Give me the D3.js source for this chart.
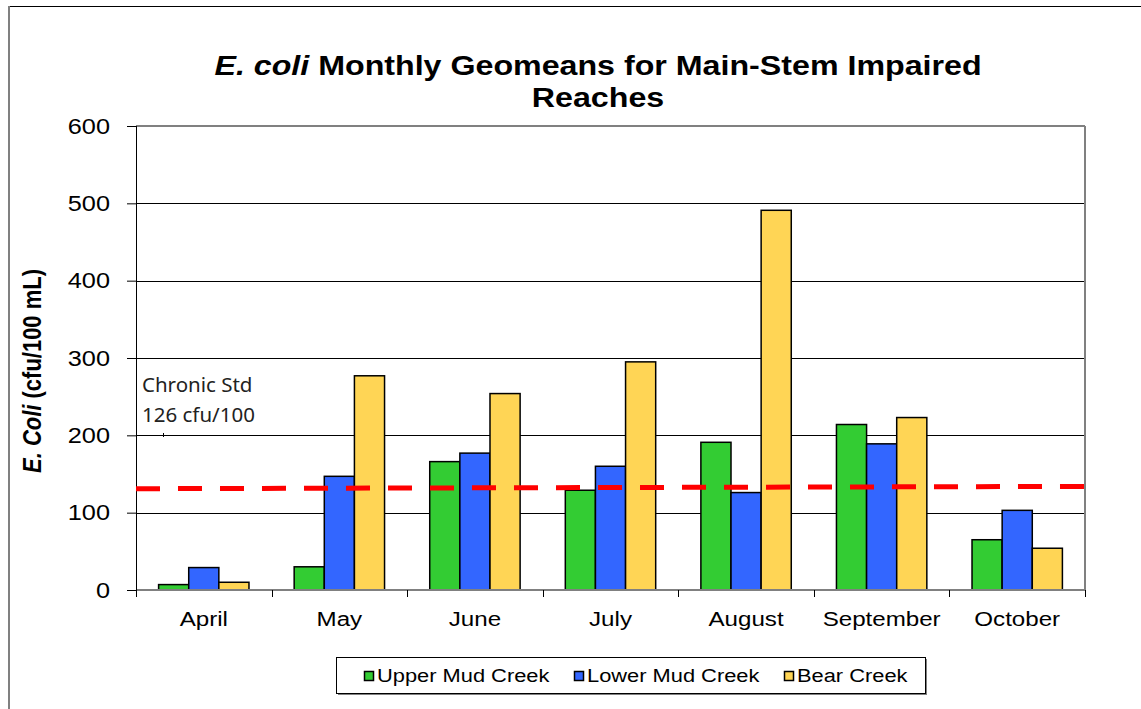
<!DOCTYPE html>
<html>
<head>
<meta charset="utf-8">
<script src="https://cdn.jsdelivr.net/npm/d3@7"></script>
<style>
  body { margin: 0; background: #fff; }
  svg { display: block; font-family: "Liberation Sans", Arial, sans-serif; }
</style>
</head>
<body>
<div id="chart"></div>
<script>
// data
var months = ["April", "May", "June", "July", "August", "September", "October"];
var seriesNames = ["Upper Mud Creek", "Lower Mud Creek", "Bear Creek"];
var upperMud = [7, 30, 166, 129, 191, 214, 65];
var lowerMud = [29, 147, 177, 160, 126, 189, 103];
var bearCreek = [10, 277, 254, 295, 491, 223, 54];
var stdLine = [131, 134];   // chronic standard line, left end / right end
var yTicks = [0, 100, 200, 300, 400, 500, 600];
var colors = ["#33cc33", "#3366ff", "#ffd555"];

var W = 1141, H = 709;
var margin = { top: 126, right: 56, bottom: 119, left: 136 };
var width = W - margin.left - margin.right,
    height = H - margin.top - margin.bottom;
var sx = 1.15; // text in the picture is drawn a bit wide

var svg = d3.select("#chart").append("svg")
    .attr("width", W)
    .attr("height", H);

// outer chart border
svg.append("line").attr("x1", 9).attr("x2", W).attr("y1", 6.5).attr("y2", 6.5)
    .attr("stroke", "#000").attr("stroke-width", 1);
svg.append("line").attr("x1", 9).attr("x2", 9).attr("y1", 6).attr("y2", H)
    .attr("stroke", "#808080").attr("stroke-width", 2);

var x0 = d3.scaleBand().domain(months).range([0, width]).paddingInner(0).paddingOuter(0);
var x1 = d3.scaleBand().domain(seriesNames).range([0, x0.bandwidth()]).paddingInner(0).paddingOuter(0.75);
var y = d3.scaleLinear().domain([0, 600]).range([height, 0]);

var chart = svg.append("g")
    .attr("transform", "translate(" + margin.left + "," + margin.top + ")");

// gridlines
chart.append("g").selectAll("line")
    .data(yTicks.filter(function (d) { return d > 0 && d < 600; }))
    .enter().append("line")
    .attr("x1", 0).attr("x2", width)
    .attr("y1", function (d) { return Math.round(y(d)) + 0.5; })
    .attr("y2", function (d) { return Math.round(y(d)) + 0.5; })
    .attr("stroke", "#000").attr("stroke-width", 1);

// plot area top / right border
chart.append("line").attr("x1", 0).attr("x2", width).attr("y1", y(600)).attr("y2", y(600))
    .attr("stroke", "#808080").attr("stroke-width", 2);
chart.append("line").attr("x1", width).attr("x2", width).attr("y1", y(600)).attr("y2", height)
    .attr("stroke", "#808080").attr("stroke-width", 2);

// bars
var data = months.map(function (m, i) {
    return { month: m, values: [upperMud[i], lowerMud[i], bearCreek[i]] };
});
var groups = chart.selectAll(".grp")
    .data(data)
    .enter().append("g")
    .attr("class", "grp")
    .attr("transform", function (d) { return "translate(" + x0(d.month) + ",0)"; });
groups.selectAll("rect")
    .data(function (d) { return d.values.map(function (v, j) { return { name: seriesNames[j], value: v, j: j }; }); })
    .enter().append("rect")
    .attr("x", function (d) { return x1(d.name); })
    .attr("width", x1.bandwidth())
    .attr("y", function (d) { return y(d.value); })
    .attr("height", function (d) { return height - y(d.value); })
    .attr("fill", function (d) { return colors[d.j]; })
    .attr("stroke", "#000")
    .attr("stroke-width", 1.5);

// x axis line (gray)
chart.append("line").attr("x1", 0).attr("x2", width).attr("y1", height).attr("y2", height)
    .attr("stroke", "#808080").attr("stroke-width", 2);

// category ticks
var boundaries = months.map(function (m) { return x0(m); }).concat([width]);
chart.append("g").selectAll("line")
    .data(boundaries)
    .enter().append("line")
    .attr("x1", function (d) { return Math.round(d) + 0.5; })
    .attr("x2", function (d) { return Math.round(d) + 0.5; })
    .attr("y1", height).attr("y2", height + 7)
    .attr("stroke", "#000");

// x labels
var xAxis = chart.append("g")
    .attr("transform", "translate(0," + height + ")")
    .call(d3.axisBottom(x0).tickSize(0).tickPadding(0));
xAxis.select(".domain").remove();
xAxis.selectAll("text")
    .attr("y", null).attr("dy", null)
    .attr("transform", "translate(0,36) scale(" + sx + ",1)")
    .attr("font-size", 21)
    .attr("font-family", "Liberation Sans, Arial, sans-serif")
    .attr("fill", "#000");

// y axis
var yAxis = chart.append("g")
    .call(d3.axisLeft(y).tickValues(yTicks).tickSize(9).tickPadding(17));
yAxis.select(".domain").attr("stroke", "#000").attr("d", "M0.5," + height + "V" + y(600));
yAxis.selectAll(".tick line").attr("stroke", "#000");
yAxis.selectAll("text")
    .attr("x", null)
    .attr("transform", "translate(-26,0) scale(" + sx + ",1)")
    .attr("font-size", 22)
    .attr("font-family", "Liberation Sans, Arial, sans-serif")
    .attr("fill", "#000");

// chronic standard dashed line
chart.append("line")
    .attr("x1", 0).attr("x2", width)
    .attr("y1", y(stdLine[0])).attr("y2", y(stdLine[1]))
    .attr("stroke", "#ff0000")
    .attr("stroke-width", 5)
    .attr("stroke-dasharray", "24,18");

// annotation
var note = svg.append("g").attr("font-family", "Noto Sans, sans-serif").attr("font-size", 20.5).attr("fill", "#222");
note.append("text").attr("transform", "translate(142,392)").text("Chronic Std");
note.append("text").attr("transform", "translate(142,422)").text("126 cfu/100");
svg.append("line").attr("x1", 163.5).attr("x2", 163.5).attr("y1", 433).attr("y2", 437)
    .attr("stroke", "#000").attr("stroke-width", 1);

// title
var title = svg.append("g").attr("font-weight", "bold").attr("font-size", 28).attr("text-anchor", "middle");
var t1 = title.append("text").attr("transform", "translate(598,75) scale(" + sx + ",1)");
t1.append("tspan").attr("font-style", "italic").text("E. coli");
t1.append("tspan").text(" Monthly Geomeans for Main-Stem Impaired");
title.append("text").attr("transform", "translate(598,107) scale(" + sx + ",1)").text("Reaches");

// y axis title
var yt = svg.append("text")
    .attr("transform", "translate(41,371) rotate(-90) scale(1," + sx + ")")
    .attr("text-anchor", "middle")
    .attr("font-weight", "bold")
    .attr("font-size", 22);
yt.append("tspan").attr("font-style", "italic").text("E. Coli");
yt.append("tspan").text(" (cfu/100 mL)");

// legend
var lg = svg.append("g");
lg.append("rect").attr("x", 338).attr("y", 659).attr("width", 589).attr("height", 36).attr("fill", "#808080");
lg.append("rect").attr("x", 336.5).attr("y", 657.5).attr("width", 589).attr("height", 36)
    .attr("fill", "#fff").attr("stroke", "#000").attr("stroke-width", 1);
var legendX = [364, 574, 784];
seriesNames.forEach(function (name, i) {
    lg.append("rect").attr("x", legendX[i] + 0.5).attr("y", 671.5).attr("width", 9).attr("height", 9)
        .attr("fill", colors[i]).attr("stroke", "#000").attr("stroke-width", 1.5);
    lg.append("text").attr("transform", "translate(" + (legendX[i] + 13) + ",682) scale(" + sx + ",1)")
        .attr("font-size", 19).text(name);
});
</script>
</body>
</html>
